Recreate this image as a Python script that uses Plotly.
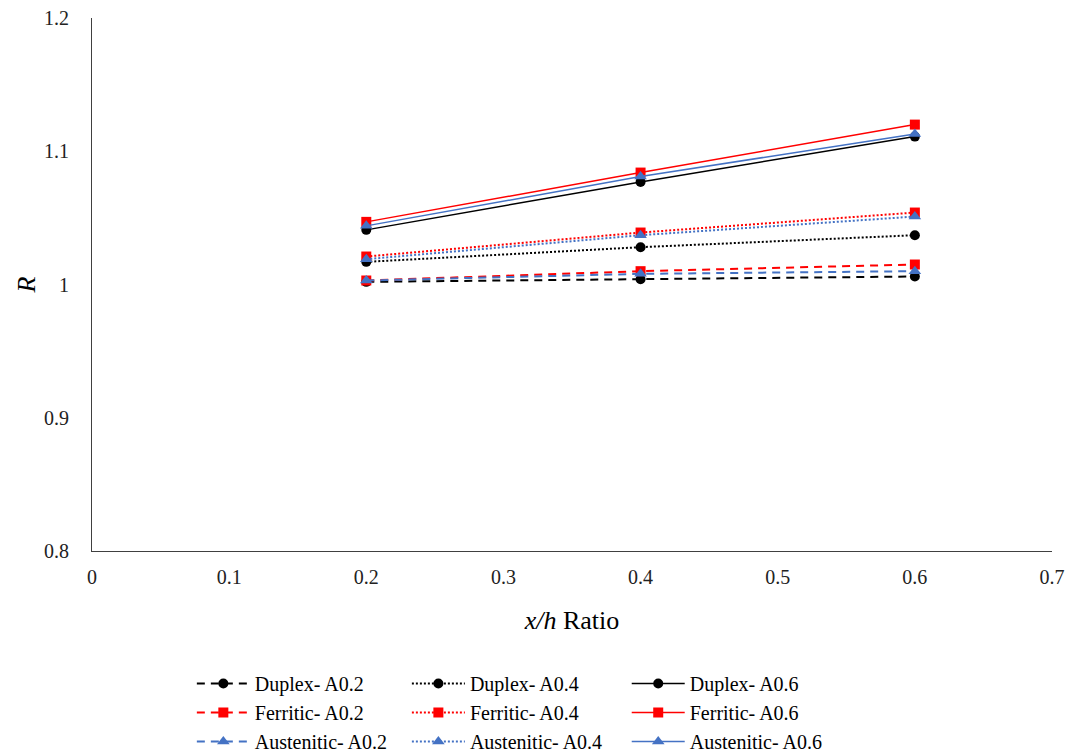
import plotly.graph_objects as go

x_ratio = [0.2, 0.4, 0.6]

duplex_a02 = [1.002, 1.004, 1.006]
duplex_a04 = [1.017, 1.028, 1.037]
duplex_a06 = [1.041, 1.077, 1.111]
ferritic_a02 = [1.003, 1.010, 1.015]
ferritic_a04 = [1.021, 1.039, 1.054]
ferritic_a06 = [1.047, 1.084, 1.120]
austenitic_a02 = [1.003, 1.008, 1.010]
austenitic_a04 = [1.019, 1.037, 1.051]
austenitic_a06 = [1.044, 1.081, 1.113]

x_ticks = [0, 0.1, 0.2, 0.3, 0.4, 0.5, 0.6, 0.7]
x_tick_labels = ["0", "0.1", "0.2", "0.3", "0.4", "0.5", "0.6", "0.7"]
y_ticks = [0.8, 0.9, 1.0, 1.1, 1.2]
y_tick_labels = ["0.8", "0.9", "1", "1.1", "1.2"]

FONT = "Liberation Serif"
BLACK = "#000000"
RED = "#FF0000"
BLUE = "#4472C4"

series = [
    ("Duplex- A0.2", duplex_a02, BLACK, "circle", "8px,6px", 2, "legend"),
    ("Ferritic- A0.2", ferritic_a02, RED, "square", "8px,6px", 2, "legend"),
    ("Austenitic- A0.2", austenitic_a02, BLUE, "triangle-up", "8px,6px", 2, "legend"),
    ("Duplex- A0.4", duplex_a04, BLACK, "circle", "2px,2px", 2, "legend2"),
    ("Ferritic- A0.4", ferritic_a04, RED, "square", "2px,2px", 2, "legend2"),
    ("Austenitic- A0.4", austenitic_a04, BLUE, "triangle-up", "2px,2px", 2, "legend2"),
    ("Duplex- A0.6", duplex_a06, BLACK, "circle", "solid", 1.5, "legend3"),
    ("Ferritic- A0.6", ferritic_a06, RED, "square", "solid", 1.5, "legend3"),
    ("Austenitic- A0.6", austenitic_a06, BLUE, "triangle-up", "solid", 1.5, "legend3"),
]

# draw order: Duplex first, then Ferritic, then Austenitic on top
order = [0, 3, 6, 1, 4, 7, 2, 5, 8]
rank = {"Duplex": 1, "Ferritic": 2, "Austenitic": 3}

fig = go.Figure()
for i in order:
    name, vals, col, sym, dash, lw, leg = series[i]
    fig.add_trace(go.Scatter(
        x=x_ratio, y=vals, name=name, mode="lines+markers",
        line=dict(color=col, width=lw, dash=dash),
        marker=dict(color=col, symbol=sym, size=11 if sym == "triangle-up" else 10,
                    line=dict(width=0)),
        legend=leg,
        legendrank=rank[name.split("-")[0]],
    ))

leg_common = dict(
    orientation="v", xanchor="left", yanchor="top",
    font=dict(family=FONT, size=20, color=BLACK),
    bgcolor="rgba(0,0,0,0)", itemwidth=53, tracegroupgap=0,
    traceorder="normal", itemclick=False,
)

fig.update_layout(
    width=1070, height=754, autosize=False,
    margin=dict(l=92, r=18, t=18, b=203, autoexpand=False),
    paper_bgcolor="white", plot_bgcolor="white",
    font=dict(family=FONT, color=BLACK),
    showlegend=True,
    legend=dict(x=0.104, y=-0.212, **leg_common),
    legend2=dict(x=0.328, y=-0.212, **leg_common),
    legend3=dict(x=0.557, y=-0.212, **leg_common),
    xaxis=dict(
        range=[0, 0.7], tickvals=x_ticks, ticktext=x_tick_labels,
        showgrid=False, zeroline=False, showline=True, linecolor="#404040", linewidth=1,
        ticks="", ticklabelstandoff=8,
        tickfont=dict(family=FONT, size=20, color="#222222"),
        title=dict(text="<i>x/h</i> Ratio", font=dict(family=FONT, size=26, color=BLACK), standoff=23),
    ),
    yaxis=dict(
        range=[0.8, 1.2], tickvals=y_ticks, ticktext=y_tick_labels,
        showgrid=False, zeroline=False, showline=True, linecolor="#404040", linewidth=1,
        ticks="", ticklabelstandoff=18,
        tickfont=dict(family=FONT, size=20, color="#222222"),
        title=dict(text="<i>R</i>", font=dict(family=FONT, size=26, color=BLACK), standoff=0),
    ),
)

fig.write_html(
    "out.html",
    config={"displayModeBar": False},
    post_script="document.body.style.margin='0';document.body.style.overflow='hidden';",
)
